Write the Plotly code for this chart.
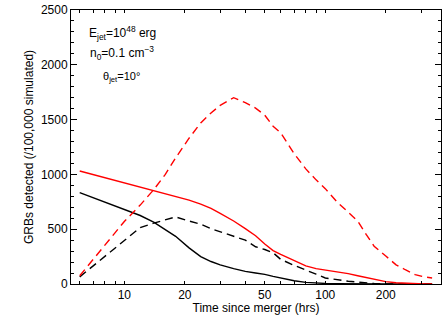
import numpy as np
import plotly.graph_objects as go

time_hrs = [6, 8, 10, 12, 14, 16, 18, 21, 24, 27, 30, 35, 40, 45, 50, 55, 60, 70, 80, 90,
            100, 115, 130, 145, 160, 175, 200, 225, 250, 280, 310, 340]

red_dashed = [75, 350, 570, 720, 860, 1000, 1150, 1330, 1470, 1560, 1630, 1700, 1655, 1605,
              1540, 1440, 1380, 1190, 1050, 950, 870, 745, 655, 575, 450, 345, 255, 175, 130,
              85, 65, 55]
red_solid = [1031, 970, 920, 880, 850, 825, 797, 765, 728, 690, 645, 575, 505, 440, 365, 305,
             270, 215, 165, 140, 128, 110, 95, 75, 60, 45, 22, 12, 6, 2, 0, 0]
black_solid = [833, 748, 680, 625, 565, 500, 435, 330, 250, 205, 175, 140, 115, 100, 88, 70,
               55, 30, 15, 8, 5, 3, 1, 0, 0, 0, 0, 0, 0, 0, 0, 0]
black_dashed = [65, 250, 400, 515, 555, 585, 612, 575, 545, 505, 477, 432, 400, 340, 315, 285,
                225, 170, 130, 90, 55, 38, 25, 18, 10, 4, 0, 0, 0, 0, 0, 0]

x_minor_ticks = [6, 7, 8, 9, 10, 20, 30, 40, 50, 60, 70, 80, 90, 100, 200, 300]
x_labels = {10: "10", 20: "20", 50: "50", 100: "100", 200: "200"}
x_major_ticks = [10, 100]
y_ticks = [0, 500, 1000, 1500, 2000, 2500]

FONT = "Liberation Sans, Arial, Helvetica, sans-serif"
dash = "8px,5px"

fig = go.Figure()
series = [
    (black_solid, "black", "solid"),
    (black_dashed, "black", dash),
    (red_solid, "#ff0000", "solid"),
    (red_dashed, "#ff0000", dash),
]
for vals, col, d in series:
    fig.add_trace(go.Scatter(x=time_hrs, y=vals, mode="lines",
                             line=dict(color=col, width=1.4, dash=d),
                             showlegend=False, hoverinfo="skip"))

xr = [np.log10(5.43), np.log10(376.5)]
fig.update_layout(
    width=442, height=315,
    margin=dict(l=71, r=1, t=10, b=31),
    paper_bgcolor="white", plot_bgcolor="white",
    font=dict(family=FONT, size=12, color="black"),
    xaxis=dict(
        type="log", range=xr,
        tickvals=x_minor_ticks,
        ticktext=[x_labels.get(v, "") for v in x_minor_ticks],
        ticks="inside", ticklen=3, tickwidth=1, tickcolor="black",
        showline=True, linecolor="black", linewidth=1, mirror="ticks",
        showgrid=False, zeroline=False,
        tickfont=dict(size=12),
        title=dict(text="Time since merger (hrs)", font=dict(size=12), standoff=4),
    ),
    xaxis2=dict(
        type="log", range=xr, overlaying="x", anchor="y", side="bottom",
        tickvals=x_major_ticks, showticklabels=False,
        ticks="inside", ticklen=6, tickwidth=1, tickcolor="black",
        showline=False, mirror="ticks", showgrid=False, zeroline=False,
    ),
    yaxis=dict(
        range=[0, 2500],
        tickvals=y_ticks,
        ticks="inside", ticklen=6, tickwidth=1, tickcolor="black",
        minor=dict(dtick=100, ticks="inside", ticklen=3, tickcolor="black", showgrid=False),
        showline=True, linecolor="black", linewidth=1, mirror="ticks",
        showgrid=False, zeroline=False,
        tickfont=dict(size=12),
        title=dict(text="GRBs detected (/100,000 simulated)", font=dict(size=12), standoff=4),
    ),
)

ann = [
    ("E<sub>jet</sub>=10<sup>48</sup> erg", 0.139, 0.916, 12),
    ("n<sub>0</sub>=0.1 cm<sup>\u22123</sup>", 0.139, 0.843, 12),
    ("\u03b8<sub>jet</sub>=10\u00b0", 0.136, 0.755, 11),
]
for txt, ax, ay, fs in ann:
    fig.add_annotation(text=txt, x=ax, y=ay, xref="paper", yref="paper",
                       showarrow=False, font=dict(size=fs, family=FONT, color="black"),
                       xanchor="center", yanchor="middle")

fig.write_html("out.html", config={"displayModeBar": False},
               post_script="document.body.style.margin='0';document.body.style.overflow='hidden';")
